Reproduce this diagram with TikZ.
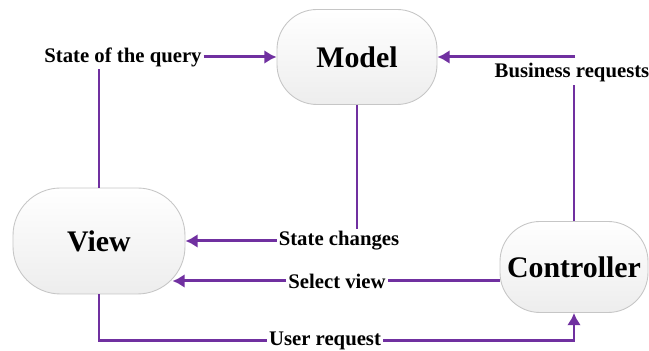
\documentclass[tikz,border=0pt]{standalone}
\usepackage{fontspec}
\setmainfont{Liberation Serif}
\usetikzlibrary{arrows.meta}
\definecolor{flow}{RGB}{112,48,160}
\begin{document}
\begin{tikzpicture}[
  part/.style={draw=gray!45,line width=0.5pt,rounded corners=0.8cm,top color=white,bottom color=gray!14,
    font=\fontsize{17}{20}\selectfont\bfseries,inner sep=0pt},
  tag/.style={font=\fontsize{11.8}{14}\selectfont\bfseries,inner sep=1pt},
  flow/.style={draw=flow,line width=1.7pt},
  go/.style={flow,-{Latex[length=7pt,width=8pt]}}]
\useasboundingbox (0,0) rectangle (12.98,7.02);
%\draw[help lines,step=1] (0,0) grid (13,7);
\node (model)[part,minimum width=3.2cm,minimum height=1.9cm] at (7.14,5.88) {Model};
\node (view)[part,minimum width=3.44cm,minimum height=2.12cm,rounded corners=0.95cm] at (1.98,2.20) {View};
\node (ctrl)[part,minimum width=2.96cm,minimum height=1.82cm] at (11.48,1.68) {Controller};
 \node (query)[tag] at (2.46,5.88) {State of the query};
 \node (changes)[tag] at (6.78,2.20) {State changes};
 \node (select)[tag] at (6.74,1.40) {Select view};
 \node (user)[tag] at (6.50,0.20) {User request};
 \node (biz)[tag] at (11.44,5.56) {Business requests};
 \coordinate (bturn) at (11.50,5.88);
\draw[flow] (view.north) -- (view.north |- query.south);
\draw[go] (query.east) -- (model.west);
\draw[flow] (model.south) -- (model.south |- changes.north);
\draw[go] (changes.west) -- (view.east);
\draw[flow] (ctrl.west |- select.east) -- (select.east);
\draw[go] (select.west) -- ([xshift=-0.26cm]view.east |- select.west);
\draw[flow] (view.south) |- (user.west);
\draw[go] (user.east) -| (ctrl.south);
\draw[flow] (ctrl.north) -- (ctrl.north |- biz.south);
\draw[go] (bturn) -- (model.east);
\end{tikzpicture}
\end{document}
